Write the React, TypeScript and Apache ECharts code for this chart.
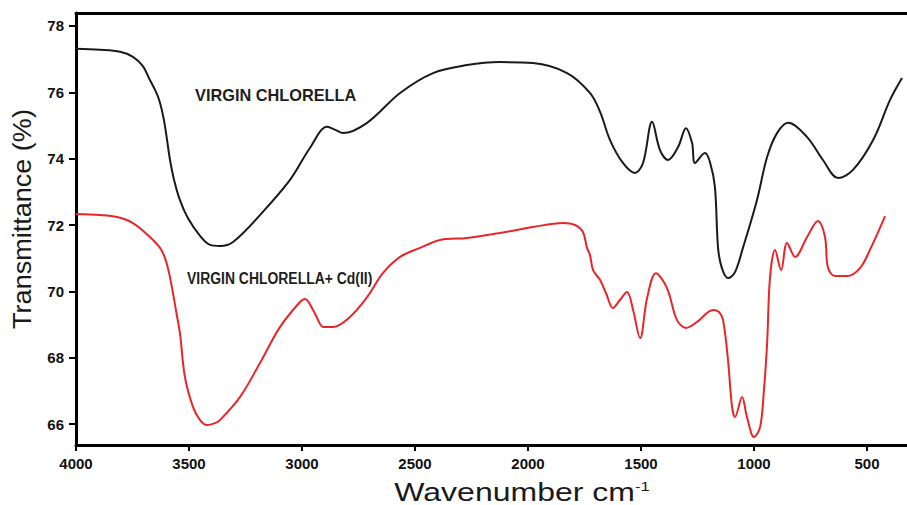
import React, { useEffect, useRef } from "react";
import * as echarts from "echarts";

// Wavenumber (cm-1) and transmittance (%)
const virginWn = [4000, 3894, 3805, 3748, 3704, 3673, 3646, 3628, 3611, 3597, 3584, 3566, 3540, 3505, 3451, 3407, 3363, 3305, 3186, 3053, 2965, 2889, 2850, 2819, 2712, 2566, 2420, 2270, 2124, 1978, 1827, 1726, 1681, 1637, 1580, 1527, 1491, 1451, 1416, 1380, 1336, 1301, 1274, 1261, 1217, 1195, 1173, 1159, 1142, 1115, 1084, 1049, 987, 942, 898, 849, 765, 695, 628, 562, 473, 398, 345];
const virginT = [77.31, 77.28, 77.22, 77.07, 76.79, 76.37, 76.01, 75.68, 75.17, 74.56, 73.96, 73.36, 72.75, 72.21, 71.67, 71.4, 71.37, 71.49, 72.3, 73.36, 74.32, 74.96, 74.86, 74.77, 75.08, 75.98, 76.58, 76.82, 76.91, 76.88, 76.58, 75.98, 75.41, 74.56, 73.87, 73.57, 73.87, 75.11, 74.26, 73.96, 74.35, 74.92, 74.47, 73.87, 74.17, 73.9, 73.15, 71.31, 70.7, 70.4, 70.58, 71.31, 72.75, 74.05, 74.77, 75.08, 74.65, 73.96, 73.42, 73.66, 74.56, 75.77, 76.43];

const cdWn = [4000, 3894, 3819, 3748, 3673, 3628, 3606, 3588, 3571, 3553, 3540, 3518, 3482, 3451, 3420, 3385, 3363, 3274, 3186, 3097, 3009, 2987, 2951, 2929, 2907, 2863, 2788, 2712, 2642, 2566, 2478, 2389, 2270, 2124, 1978, 1845, 1792, 1757, 1739, 1726, 1712, 1681, 1655, 1624, 1593, 1562, 1535, 1504, 1473, 1434, 1385, 1341, 1301, 1252, 1181, 1155, 1137, 1115, 1097, 1084, 1053, 1031, 1000, 973, 956, 942, 929, 907, 880, 854, 818, 765, 717, 686, 673, 642, 588, 531, 487, 420];
const cdT = [72.33, 72.3, 72.24, 72.06, 71.64, 71.31, 71.0, 70.55, 69.95, 69.25, 68.74, 67.42, 66.51, 66.12, 65.97, 66.03, 66.12, 66.82, 67.84, 68.93, 69.68, 69.77, 69.44, 69.14, 68.93, 68.93, 69.23, 69.83, 70.55, 71.04, 71.31, 71.55, 71.61, 71.76, 71.94, 72.06, 72.0, 71.79, 71.31, 71.1, 70.64, 70.34, 69.95, 69.5, 69.74, 69.98, 69.44, 68.59, 69.8, 70.55, 70.1, 69.14, 68.9, 69.08, 69.44, 69.38, 69.14, 67.93, 66.51, 66.21, 66.82, 66.21, 65.61, 65.91, 67.03, 68.44, 70.43, 71.25, 70.64, 71.46, 71.04, 71.64, 72.12, 71.64, 70.73, 70.46, 70.46, 70.7, 71.25, 72.27];

const xTicks = [4000, 3500, 3000, 2500, 2000, 1500, 1000, 500];
const yTicks = [66, 68, 70, 72, 74, 76, 78];

const seriesNames = ["VIRGIN CHLORELLA", "VIRGIN CHLORELLA+ Cd(II)"];

const FONT = "'Liberation Sans', Arial, Helvetica, sans-serif";

export default function App() {
  const ref = useRef<HTMLDivElement>(null);
  useEffect(() => {
    if (!ref.current) return;
    const chart = echarts.init(ref.current, null, { renderer: "svg" });
    const option = {
      animation: false,
      backgroundColor: "#ffffff",
      grid: {
        left: 76,
        top: 13,
        bottom: 60,
        right: 0,
        show: false,
      },
      xAxis: [
        {
          type: "value",
          inverse: true,
          min: 323,
          max: 4000,
          position: "bottom",
          axisLine: { show: true, onZero: false, lineStyle: { color: "#000", width: 3 } },
          axisTick: { show: true, length: 6, lineStyle: { color: "#000", width: 2 }, customValues: xTicks },
          axisLabel: {
            customValues: xTicks,
            formatter: (v: number) => String(v),
            margin: 11,
            color: "#111",
            fontWeight: "bold",
            fontSize: 15,
            fontFamily: FONT,
          },
          splitLine: { show: false },
        },
        {
          type: "value",
          inverse: true,
          min: 323,
          max: 4000,
          position: "top",
          axisLine: { show: true, onZero: false, lineStyle: { color: "#000", width: 3 } },
          axisTick: { show: false },
          axisLabel: { show: false },
          splitLine: { show: false },
        },
      ],
      yAxis: {
        type: "value",
        min: 65.37,
        max: 78.39,
        axisLine: { show: true, lineStyle: { color: "#000", width: 3 } },
        axisTick: { show: true, length: 7, lineStyle: { color: "#000", width: 2 }, customValues: yTicks },
        axisLabel: {
          customValues: yTicks,
          margin: 12,
          color: "#111",
          fontWeight: "bold",
          fontSize: 15,
          fontFamily: FONT,
        },
        splitLine: { show: false },
      },
      series: [
        {
          name: seriesNames[0],
          type: "line",
          xAxisIndex: 0,
          data: virginWn.map((w, i) => [w, virginT[i]]),
          showSymbol: false,
          smooth: 0.35,
          lineStyle: { color: "#1a1a1a", width: 2 },
        },
        {
          name: seriesNames[1],
          type: "line",
          xAxisIndex: 0,
          data: cdWn.map((w, i) => [w, cdT[i]]),
          showSymbol: false,
          smooth: 0.35,
          lineStyle: { color: "#e8262a", width: 2 },
        },
      ],
      graphic: [
        {
          type: "text",
          left: 195,
          top: 87,
          style: {
            text: seriesNames[0],
            fontSize: 17,
            fontWeight: "bold",
            fontFamily: FONT,
            fill: "#1f1f1f",
          },
          scaleX: 0.96,
        },
        {
          type: "text",
          left: 187,
          top: 269,
          style: {
            text: seriesNames[1],
            fontSize: 17,
            fontWeight: "bold",
            fontFamily: FONT,
            fill: "#1f1f1f",
          },
          scaleX: 0.82,
        },
        {
          type: "text",
          x: 22,
          y: 219,
          rotation: Math.PI / 2,
          style: {
            text: "Transmittance (%)",
            fontSize: 26,
            fontFamily: FONT,
            fill: "#1a1a1a",
            align: "center",
            verticalAlign: "middle",
          },
          scaleX: 1.04,
        },
        {
          type: "text",
          x: 522,
          y: 480,
          scaleX: 1.28,
          style: {
            text: "{a|Wavenumber cm}{b|-1}",
            fontFamily: FONT,
            fill: "#1a1a1a",
            align: "center",
            verticalAlign: "top",
            rich: {
              a: { fontSize: 25, lineHeight: 25, fontFamily: FONT, fill: "#1a1a1a" },
              b: { fontSize: 13, lineHeight: 13, verticalAlign: "top", fontFamily: FONT, fill: "#1a1a1a" },
            },
          },
        },
      ],
    };
    chart.setOption(option as any);
    return () => chart.dispose();
  }, []);
  return <div ref={ref} style={{ position: "absolute", left: 0, top: 0, width: 907, height: 505 }} />;
}
